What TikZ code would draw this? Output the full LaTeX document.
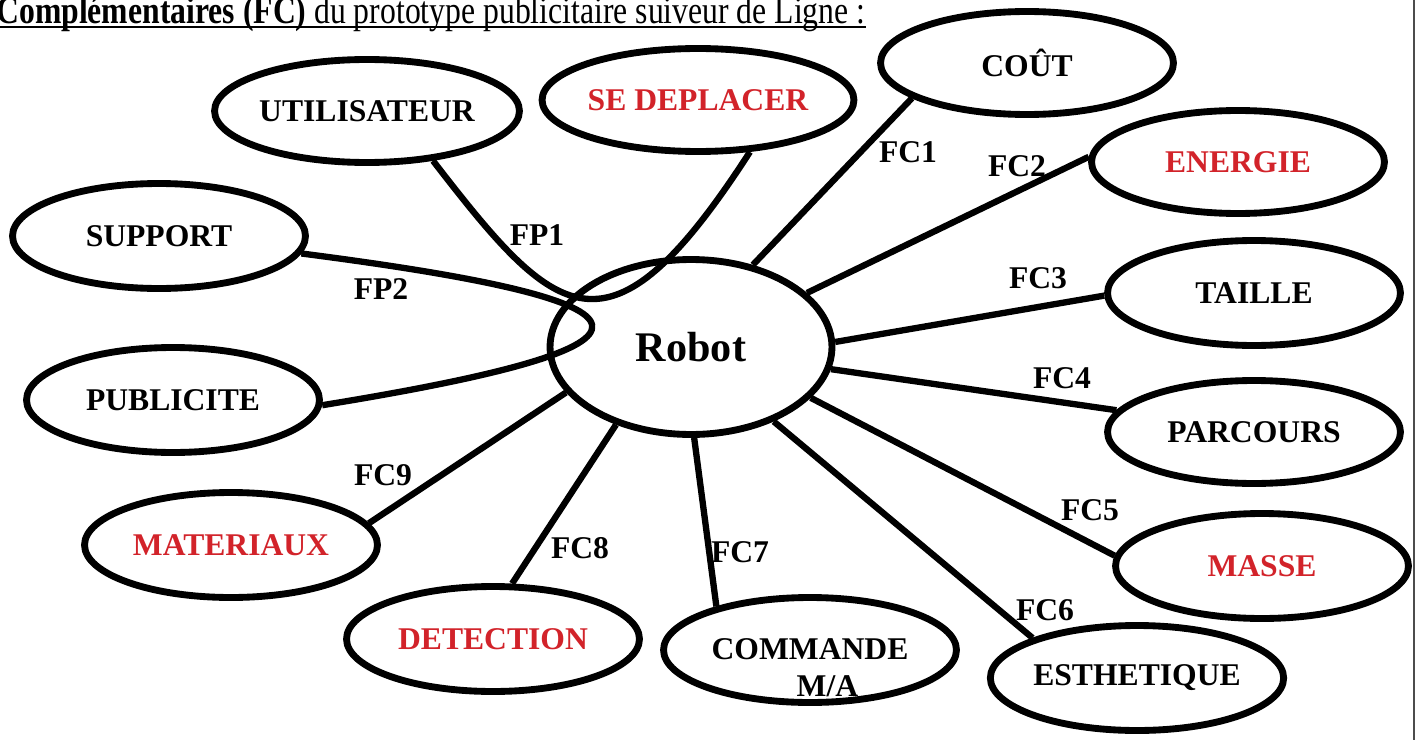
\documentclass[tikz,border=0pt]{standalone}
\usepackage{fontspec}
\setmainfont{Liberation Serif}
\usetikzlibrary{shapes.geometric}
\definecolor{fcred}{RGB}{210,35,42}

\begin{document}
\begin{tikzpicture}[x=0.02cm,y=-0.02cm]
        \tikzstyle{bubble} = [ellipse, draw=black, line width=3.9pt, minimum width=5.86cm, minimum height=2.06cm, inner sep=0pt, font=\fontsize{18}{21}\selectfont\bfseries]
        \tikzstyle{link} = [line width=3.6pt]
        \tikzstyle{tag} = [inner sep=1pt, font=\fontsize{18}{21}\selectfont\bfseries]
        \tikzstyle{hot} = [text=fcred]

                \useasboundingbox (0,0) rectangle (1423,740);
                \draw[gray!60!black, line width=1.2pt] (1414,0) -- (1414,740);
                \node (titre) [anchor=base west, inner sep=0pt, font=\fontsize{22}{24}\selectfont] at (-4,24) {\scalebox{0.82}[1]{\textbf{Complémentaires (FC)} du prototype publicitaire suiveur de Ligne :}};
                \draw[line width=1.1pt] ([yshift=-0.06cm]titre.base west) -- ([yshift=-0.06cm]titre.base east);

                \node (robot) [bubble, minimum width=5.64cm, minimum height=3.5cm, font=\fontsize{24}{28}\selectfont\bfseries] at (691,347) {Robot};
                \node (cout) [bubble] at (1027,63) {COÛT};
                \node (sedep) [bubble, hot] at (698,100) {SE DEPLACER};
                \node (util) [bubble] at (367,111) {UTILISATEUR};
                \node (energie) [bubble, hot] at (1238,162) {ENERGIE};
                \node (support) [bubble, minimum height=2.1cm] at (159,236) {SUPPORT};
                \node (taille) [bubble, minimum height=2.1cm] at (1254,293) {TAILLE};
                \node (pub) [bubble, minimum height=2.1cm] at (173,400) {PUBLICITE};
                \node (parcours) [bubble] at (1254,432) {PARCOURS};
                \node (mat) [bubble, hot, minimum height=2.1cm] at (231,545) {MATERIAUX};
                \node (masse) [bubble, hot, minimum height=2.1cm] at (1262,566) {MASSE};
                \node (detect) [bubble, hot, minimum height=2.1cm] at (493,639) {DETECTION};
                \node (cmd) [bubble, minimum height=2.1cm] at (810,650) {};
                \node (cmdtxt) [tag, align=center] at ([yshift=-0.36cm]cmd.center) {COMMANDE\\\hspace*{1.1em}M/A};
                \node (esth) [bubble, minimum height=2.1cm] at (1137,678) {ESTHETIQUE};

                \draw[link] (util.-37) .. controls (556,320) and (608,372) .. (sedep.-45);
                \draw[link] (support.-7) .. controls (678,302) and (693,345) .. (pub.-2);
                \draw[link] (robot.53) -- (cout.197);
                \draw[link] (robot.25) -- (energie.178);
                \draw[link] (robot.2) -- (taille.181);
                \draw[link] (robot.-9) -- (parcours.171);
                \draw[link] (robot.-23) -- (masse.176);
                \draw[link] (robot.-42) -- (esth.159);
                \draw[link] (robot.-88) -- (cmd.155);
                \draw[link] (robot.226) -- (detect.71);
                \draw[link] (robot.200) -- (mat.9);

                \node (fp1) [tag] at (537,235) {FP1};
                \node (fp2) [tag] at (381,289) {FP2};
                \node (fc1) [tag] at (908,152) {FC1};
                \node (fc2) [tag] at (1017,166) {FC2};
                \node (fc3) [tag] at (1038,278) {FC3};
                \node (fc4) [tag] at (1062,378) {FC4};
                \node (fc5) [tag] at (1090,510) {FC5};
                \node (fc6) [tag] at (1045,610) {FC6};
                \node (fc7) [tag] at (740,552) {FC7};
                \node (fc8) [tag] at (580,548) {FC8};
                \node (fc9) [tag] at (383,475) {FC9};
    \end{tikzpicture}
\end{document}
